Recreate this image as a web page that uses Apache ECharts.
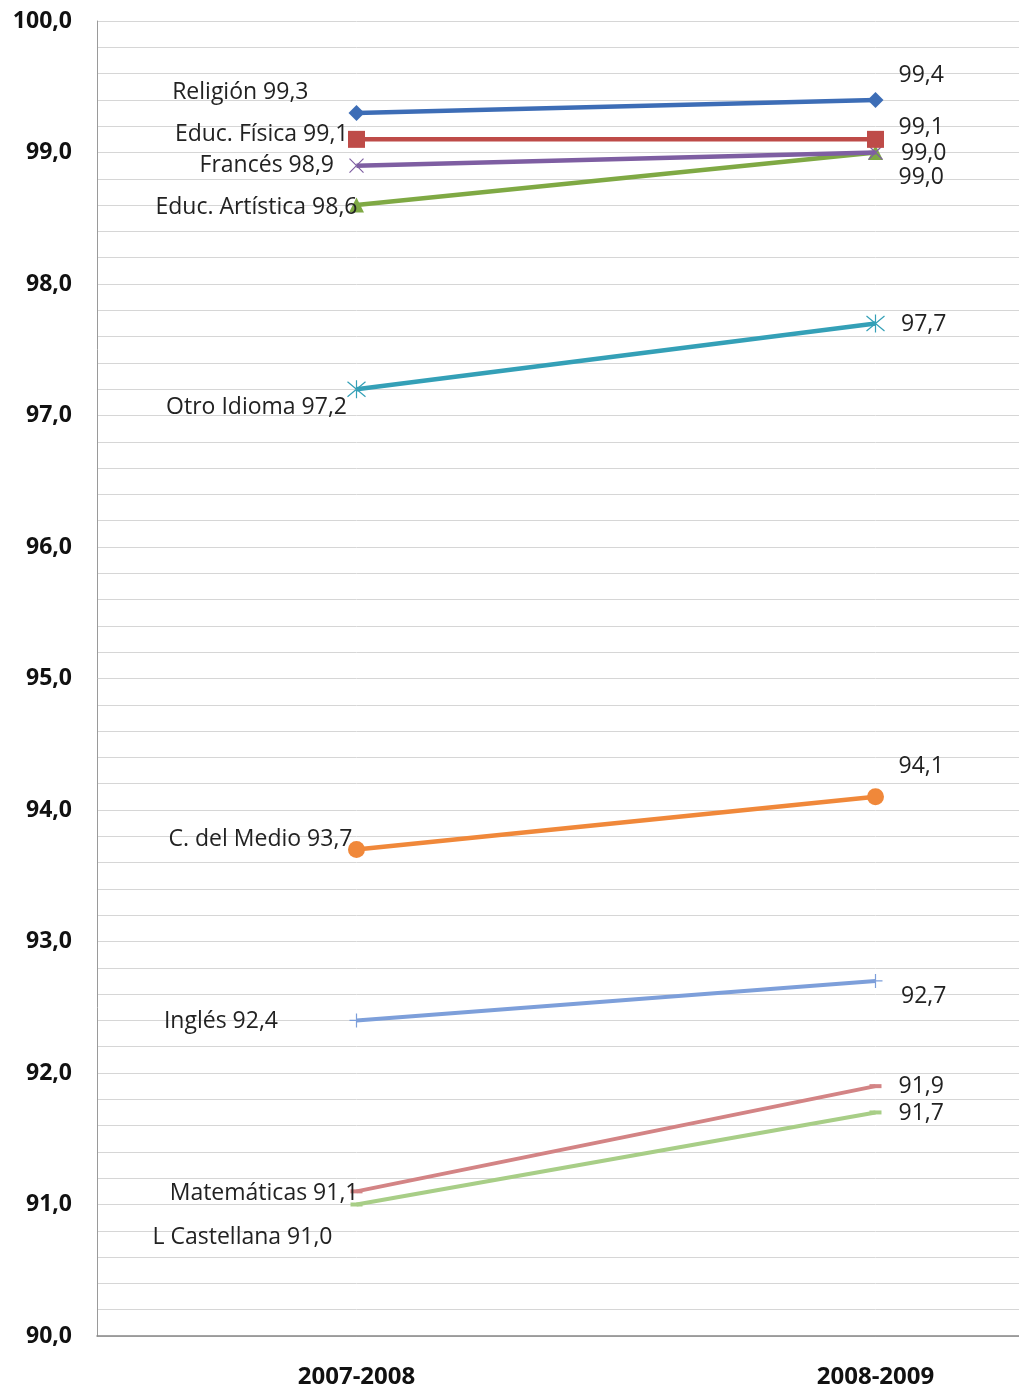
<!DOCTYPE html>
<html>
<head>
<meta charset="utf-8">
<script src="https://cdn.jsdelivr.net/npm/echarts@6/dist/echarts.min.js"></script>
<style>html,body{margin:0;padding:0;background:#fff;overflow:hidden;width:1019px;height:1390px;}#c{width:1140px;height:1390px;}</style>
</head>
<body>
<div id="c"></div>
<script>
// ---- data ----
const categories = ['2007-2008', '2008-2009'];
const seriesNames = ['Religión', 'Educ. Física', 'Francés', 'Educ. Artística', 'Otro Idioma', 'C. del Medio', 'Inglés', 'Matemáticas', 'L Castellana'];
const values2007 = [99.3, 99.1, 98.9, 98.6, 97.2, 93.7, 92.4, 91.1, 91.0];
const values2008 = [99.4, 99.1, 99.0, 99.0, 97.7, 94.1, 92.7, 91.9, 91.7];
const yTickLabelsEvery = 1;

// ---- styles ----
const colors = ['#3D6DB6', '#BE4B48', '#7E5EA2', '#7FA944', '#34A0B7', '#F0883A', '#7D9FDA', '#D38485', '#A8CE87'];
const lineWidths = [4.5, 4.5, 4.5, 4.5, 4.5, 4.5, 4, 4, 4];
const symbols = [
  'diamond', 'rect',
  'path://M0,0L10,10M10,0L0,10',
  'triangle',
  'path://M0,0L10,10M10,0L0,10M5,-1L5,11',
  'circle',
  'path://M0,5L10,5M5,0L5,10',
  'rect', 'rect'
];
const symbolSizes = [16, 17, 14, 15, 18, 17, 14, [12, 4], [12, 4]];
// offsets measured from the point centre
const leftOffsets = [[-48, -21], [-8, -5], [-20, 0], [1, 2], [-7, 18], [-4, -10], [-76, 1], [2, 2], [-24, 33]];
const rightOffsets = [[23, -24], [23, -12], [23, 1], [23, 25], [23, 1], [23, -30], [23, 16], [23, 0], [23, 1]];

const fmt = v => v.toFixed(1).replace('.', ',');
const labelFont = { fontFamily: 'Open Sans', fontSize: 23, color: '#222' };

const series = seriesNames.map((name, i) => {
  const isPath = typeof symbols[i] === 'string' && symbols[i].startsWith('path://');
  const half = (Array.isArray(symbolSizes[i]) ? symbolSizes[i][0] : symbolSizes[i]) / 2;
  const lo = [leftOffsets[i][0] + half, leftOffsets[i][1]];
  const ro = [rightOffsets[i][0] - half, rightOffsets[i][1]];
  return {
    name: name,
    type: 'line',
    symbol: symbols[i],
    symbolSize: symbolSizes[i],
    lineStyle: { color: colors[i], width: lineWidths[i] },
    itemStyle: isPath ? { color: 'none', borderColor: colors[i], borderWidth: 1.2 } : { color: colors[i] },
    z: 2 + (seriesNames.length - i),
    data: [
      { value: values2007[i], label: Object.assign({ show: true, position: 'left', distance: 0, offset: lo, formatter: name + ' ' + fmt(values2007[i]) }, labelFont) },
      { value: values2008[i], label: Object.assign({ show: true, position: 'right', distance: 0, offset: ro, formatter: fmt(values2008[i]) }, labelFont) }
    ],
    emphasis: { disabled: true },
    animation: false
  };
});

const chart = echarts.init(document.getElementById('c'), null, { renderer: 'canvas' });
chart.setOption({
  backgroundColor: '#fff',
  animation: false,
  grid: { left: 97, top: 21, width: 1038, height: 1315, containLabel: false },
  xAxis: {
    type: 'category',
    data: categories,
    boundaryGap: true,
    axisLine: { lineStyle: { color: '#868686', width: 1.5 } },
    axisTick: { show: false },
    axisLabel: { margin: 29, fontFamily: 'Open Sans', fontWeight: 'bold', fontSize: 24, color: '#111' },
    splitLine: { show: false }
  },
  yAxis: {
    type: 'value',
    min: 90, max: 100, interval: 0.2,
    axisLine: { show: true, lineStyle: { color: '#9a9a9a', width: 1 } },
    axisTick: { show: false },
    splitLine: { show: true, lineStyle: { color: '#D6D6D6', width: 1 } },
    axisLabel: {
      margin: 25, fontFamily: 'Open Sans', fontWeight: 'bold', fontSize: 23, color: '#111',
      formatter: v => (Math.abs(v / yTickLabelsEvery - Math.round(v / yTickLabelsEvery)) < 1e-6 ? fmt(v) : '')
    }
  },
  series: series
});
</script>
</body>
</html>
